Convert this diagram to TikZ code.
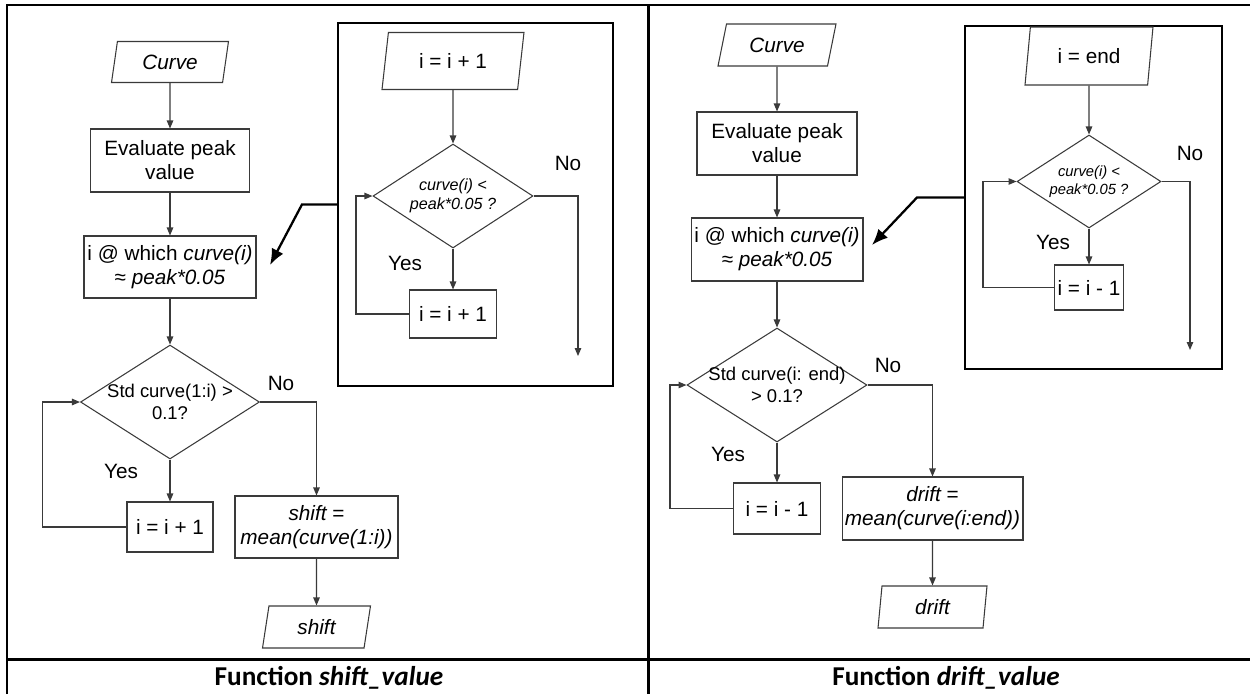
\documentclass[tikz,border=0pt]{standalone}
\usepackage{fontspec}
\usetikzlibrary{arrows.meta,shapes.geometric,calc}
\newfontfamily\flowfont{Liberation Sans}
\newfontfamily\capfont{Carlito}
\definecolor{linie}{HTML}{3A3A3A}
\tikzset{
  box/.style={draw=linie,line width=0.6pt,align=center,inner sep=1pt,
    font=\flowfont\fontsize{11.8}{13.6}\selectfont},
  io/.style={box,trapezium,trapezium left angle=72,trapezium right angle=108,
    trapezium stretches body},
  cond/.style={box,diamond,inner sep=-12pt},
  flow/.style={-{Triangle[length=1.6mm,width=1.3mm]},linie,line width=0.6pt},
  bigarrow/.style={-{Latex[length=3.2mm,width=2.6mm]},line width=1.3pt},
  frame/.style={draw,line width=1.2pt},
  tab/.style={line width=1.7pt},
  lab/.style={font=\flowfont\fontsize{11.8}{13.6}\selectfont,inner sep=0pt},
  captext/.style={font=\capfont\bfseries\fontsize{15.5}{18}\selectfont},
}

\begin{document}
\begin{tikzpicture}[x=0.02cm,y=-0.02cm]
  \useasboundingbox (0,0) rectangle (1250,694);
  % table
  \draw[tab] (7,694) -- (7,5) -- (1250,5);
  \draw[tab] (648,5) -- (648,694);
  \draw[tab] (7,659) -- (1250,659);
  \node[captext] (capL) at (329,678) {Function \itshape shift\_value};
  \node[captext] (capR) at (946,678) {Function \itshape drift\_value};

  % shift_value
  \node[io,minimum width=2.34cm,minimum height=0.82cm] (curveL) at (170,62) {\itshape Curve};
  \node[box,minimum width=3.18cm,minimum height=1.26cm] (evalL) at (170,160.5) {Evaluate peak\\value};
  \node[box,minimum width=3.44cm,minimum height=1.24cm] (whichL) at (170,267) {i @ which \itshape curve(i)\\≈ \itshape peak*0.05};
  \node[cond,minimum width=3.58cm,minimum height=2.28cm,font=\flowfont\fontsize{10.5}{12.2}\selectfont] (stdL) at (170,402) {Std curve(1:i) >\\0.1?};
  \node[box,minimum width=1.72cm,minimum height=1cm] (incL) at (170,527) {i = i + 1};
  \node[box,minimum width=3.26cm,minimum height=1.24cm] (shiftL) at (316.5,527) {\itshape shift \upshape =\\\itshape mean(curve(1:i))};
  \node[io,minimum width=2.16cm,minimum height=0.84cm,trapezium left angle=71,trapezium right angle=109] (outL) at (316.5,627) {\itshape shift};
  \node[lab] (noL) at (281,383) {No};
  \node[lab] (yesL) at (121,471) {Yes};
  \draw[flow] (curveL) -- (evalL);
  \draw[flow] (evalL) -- (whichL);
  \draw[flow] (whichL) -- (stdL);
  \draw[flow] (stdL) -- (incL);
  \draw[flow] (incL.west) -- ++(-84,0) |- (stdL.west);
  \draw[flow] (stdL.east) -| (shiftL.north);
  \draw[flow] (shiftL) -- (outL);

  % search loop, shift_value
  \node[frame,minimum width=5.5cm,minimum height=7.26cm] (loopL) at (475.5,204.5) {};
  \node[io,minimum width=2.84cm,minimum height=1.14cm,trapezium left angle=71,trapezium right angle=109] (initL) at (453,61) {i = i + 1};
  \node[cond,minimum width=3.2cm,minimum height=2.08cm,font=\flowfont\fontsize{9.2}{11}\selectfont\itshape] (condL) at (453,196) {curve(i) <\\peak*0.05 ?};
  \node[box,minimum width=1.74cm,minimum height=0.96cm] (stepL) at (453,314) {i = i + 1};
  \node[lab] (noiL) at (568,163) {No};
  \node[lab] (yesiL) at (405,263) {Yes};
  \coordinate (endL) at (578,356);
  \coordinate (tipL) at (270,265);
  \draw[flow] (initL) -- (condL);
  \draw[flow] (condL) -- (stepL);
  \draw[flow] (stepL.west) -- ++(-53,0) |- (condL.west);
  \draw[flow] (condL.east) -| (endL);
  \draw[bigarrow] (loopL.west) -- ++(-35,0) -- (tipL);

  % drift_value
  \node[io,minimum width=2.36cm,minimum height=0.84cm,trapezium left angle=65,trapezium right angle=115] (curveR) at (777,45) {\itshape Curve};
  \node[box,minimum width=3.2cm,minimum height=1.26cm] (evalR) at (777,143.5) {Evaluate peak\\value};
  \node[box,minimum width=3.44cm,minimum height=1.26cm] (whichR) at (777,249.5) {i @ which \itshape curve(i)\\≈ \itshape peak*0.05};
  \node[cond,minimum width=3.6cm,minimum height=2.28cm,font=\flowfont\fontsize{10.5}{12.2}\selectfont] (stdR) at (777,385) {Std curve(i: end)\\> 0.1?};
  \node[box,minimum width=1.74cm,minimum height=1.02cm] (decR) at (777,508.5) {i = i - 1};
  \node[box,minimum width=3.62cm,minimum height=1.26cm] (driftR) at (932.5,508.5) {\itshape drift \upshape =\\\itshape mean(curve(i:end))};
  \node[io,minimum width=2.18cm,minimum height=0.84cm,trapezium left angle=78,trapezium right angle=102] (outR) at (932.5,607) {\itshape drift};
  \node[lab] (noR) at (888,365) {No};
  \node[lab] (yesR) at (728,454) {Yes};
  \draw[flow] (curveR) -- (evalR);
  \draw[flow] (evalR) -- (whichR);
  \draw[flow] (whichR) -- (stdR);
  \draw[flow] (stdR) -- (decR);
  \draw[flow] (decR.west) -- ++(-63,0) |- (stdR.west);
  \draw[flow] (stdR.east) -| (driftR.north);
  \draw[flow] (driftR) -- (outR);

  % search loop, drift_value
  \node[frame,minimum width=5.14cm,minimum height=6.86cm] (loopR) at (1093.5,197.5) {};
  \node[io,minimum width=2.56cm,minimum height=1.16cm,trapezium left angle=74,trapezium right angle=106] (initR) at (1089,56) {i = end};
  \node[cond,minimum width=2.88cm,minimum height=1.86cm,font=\flowfont\fontsize{8.4}{10}\selectfont\itshape] (condR) at (1089,181.5) {curve(i) <\\peak*0.05 ?};
  \node[box,minimum width=1.38cm,minimum height=0.9cm] (stepR) at (1089,287.5) {i = i - 1};
  \node[lab] (noiR) at (1190,153) {No};
  \node[lab] (yesiR) at (1053,242) {Yes};
  \coordinate (endR) at (1190,350);
  \coordinate (tipR) at (872,245);
  \draw[flow] (initR) -- (condR);
  \draw[flow] (condR) -- (stepR);
  \draw[flow] (stepR.west) -- ++(-71,0) |- (condR.west);
  \draw[flow] (condR.east) -| (endR);
  \draw[bigarrow] (loopR.west) -- ++(-47,0) -- (tipR);
\end{tikzpicture}
\end{document}
